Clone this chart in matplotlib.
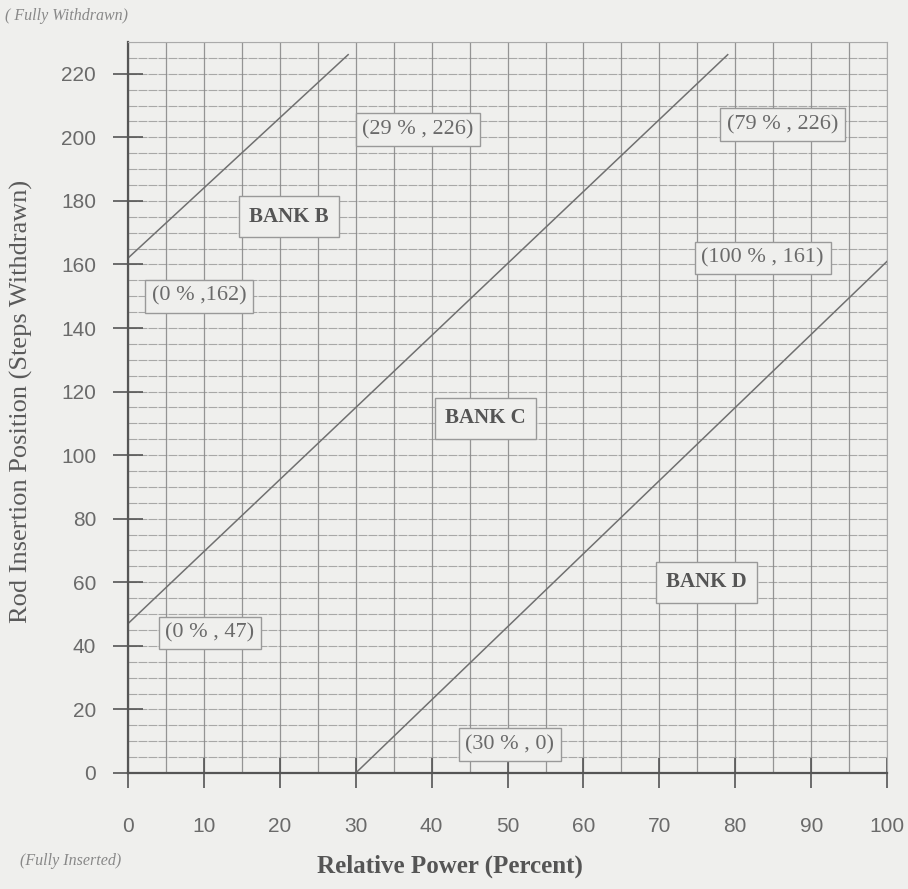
"""Rod insertion limits vs relative power (Banks B, C, D)."""
import matplotlib
matplotlib.use("Agg")
import matplotlib.pyplot as plt
import numpy as np

# bank insertion limit lines (relative power %, steps withdrawn)
power_b = [0, 29]
steps_b = [162, 226]
power_c = [0, 79]
steps_c = [47, 226]
power_d = [30, 100]
steps_d = [0, 161]

x_ticks = list(range(0, 101, 10))
y_ticks = list(range(0, 221, 20))

point_labels = ["(29 % , 226)", "(79 % , 226)", "(100 % , 161)",
                "(0 % ,162)", "(0 % , 47)", "(30 % , 0)"]
bank_labels = ["BANK B", "BANK C", "BANK D"]

BG = "#efefed"
GRID = "#8a8a8a"
TXT = "#6a6a6a"
SERIF = ["Liberation Serif", "DejaVu Serif"]

fig = plt.figure(figsize=(9.08, 8.89), dpi=100, facecolor=BG)
ax = fig.add_axes([0.141, 0.1305, 0.836, 0.8223], facecolor=BG)

ax.set_xlim(0, 100)
ax.set_ylim(0, 230)
ax.set_xticks(x_ticks)
ax.set_yticks(y_ticks)
ax.set_xticks(np.arange(0, 101, 5), minor=True)
ax.set_yticks(np.arange(0, 231, 5), minor=True)
ax.grid(which="both", axis="x", color=GRID, lw=0.9, alpha=0.9)
ax.grid(which="both", axis="y", color=GRID, lw=0.8, alpha=0.7, ls=(0, (8, 1)))
ax.set_axisbelow(True)

ax.tick_params(which="major", direction="inout", length=22, width=1.2,
               color="#555555", labelcolor=TXT, labelsize=15)
ax.tick_params(axis="x", which="major", pad=21)
ax.tick_params(axis="y", which="major", pad=12)
ax.tick_params(which="minor", length=0)
for lab in ax.get_xticklabels() + ax.get_yticklabels():
    lab.set_fontfamily(["Liberation Sans", "DejaVu Sans"])

for s in ("top", "right"):
    ax.spines[s].set_color("#aaaaaa")
    ax.spines[s].set_linewidth(0.8)
for s in ("left", "bottom"):
    ax.spines[s].set_color("#555555")
    ax.spines[s].set_linewidth(1.6)

for px, st in [(power_b, steps_b), (power_c, steps_c), (power_d, steps_d)]:
    ax.plot(px, st, color="#707070", lw=1.1)

box = dict(boxstyle="square,pad=0.3", fc=BG, ec="#999999", lw=1.0)
pt_pos = [(38.2, 202.5), (86.2, 204), (83.6, 162), (9.4, 150), (10.8, 44), (50.3, 9)]
for lab, (x, y) in zip(point_labels, pt_pos):
    ax.text(x, y, lab, ha="center", va="center", fontsize=16, color=TXT,
            family=SERIF, bbox=box)
bank_pos = [(21.2, 175), (47.1, 111.6), (76.2, 60)]
bbox_b = dict(boxstyle="square,pad=0.5", fc=BG, ec="#999999", lw=1.0)
for lab, (x, y) in zip(bank_labels, bank_pos):
    ax.text(x, y, lab, ha="center", va="center", fontsize=15, color="#555555",
            family=SERIF, fontweight="bold", bbox=bbox_b)

fig.text(0.496, 0.025, "Relative Power (Percent)", ha="center", va="center",
         fontsize=18, fontweight="bold", color="#555555", family=SERIF)
fig.text(0.024, 0.548, "Rod Insertion Position (Steps Withdrawn)", ha="center",
         va="center", rotation=90, fontsize=19, color="#5a5a5a", family=SERIF)
fig.text(0.006, 0.982, "( Fully Withdrawn)", ha="left", va="center",
         fontsize=11.5, style="italic", color="#888888", family=SERIF)
fig.text(0.022, 0.032, "(Fully Inserted)", ha="left", va="center",
         fontsize=11.5, style="italic", color="#888888", family=SERIF)

fig.savefig("out.png", dpi=100, facecolor=BG)
